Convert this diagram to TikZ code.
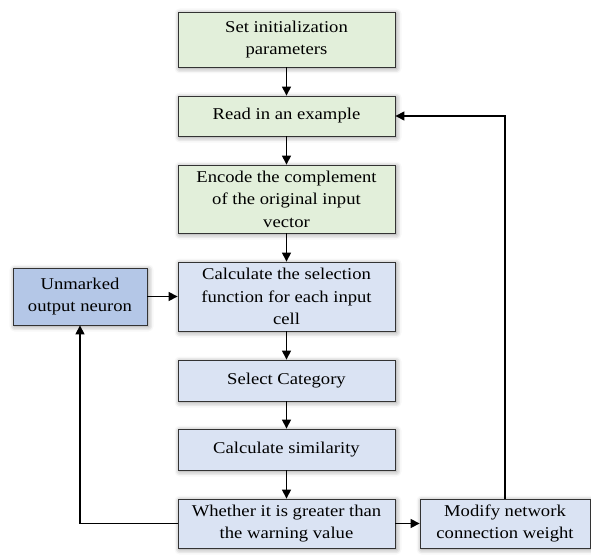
\documentclass[tikz,border=0pt]{standalone}
\usepackage{fontspec}
\setmainfont[FakeStretch=1.13]{Liberation Serif}
\usetikzlibrary{arrows.meta,shadows.blur,calc}
\definecolor{greenfill}{HTML}{E2EFDA}
\definecolor{bluefill}{HTML}{DAE3F3}
\definecolor{darkbluefill}{HTML}{B4C7E7}
\tikzset{
  flowbox/.style={draw=black!80, line width=0.8pt, minimum width=217pt, align=center,
    font=\fontsize{16.5}{22.5}\selectfont, inner sep=2pt,
    blur shadow={shadow xshift=1.5pt, shadow yshift=-1.5pt, shadow blur radius=5pt, shadow opacity=45}},
  greenbox/.style={flowbox, fill=greenfill},
  bluebox/.style={flowbox, fill=bluefill},
  flowarrow/.style={-{Triangle[length=9pt,width=9pt]}, line width=1.2pt, black}
}
\begin{document}
\begin{tikzpicture}[x=1pt,y=-1pt]
\useasboundingbox (0,0) rectangle (591,556);
% main column
\node[greenbox, minimum height=55pt] (init) at (286.5,39.5) {Set initialization\\parameters};
\node[greenbox, minimum height=40pt] (read) at (286.5,116) {Read in an example};
\node[greenbox, minimum height=68pt] (encode) at (286.5,199) {Encode the complement\\of the original input\\vector};
\node[bluebox, minimum height=69pt] (calcsel) at (286.5,296.5) {Calculate the selection\\function for each input\\cell};
\node[bluebox, minimum height=41pt] (select) at (286.5,380.5) {Select Category};
\node[bluebox, minimum height=41pt] (simil) at (286.5,449.5) {Calculate similarity};
\node[bluebox, minimum height=49pt] (warn) at (286.5,523.5) {Whether it is greater than\\the warning value};
% side boxes
\node[flowbox, fill=darkbluefill, minimum width=134pt, minimum height=57pt] (unmark) at (80,296.5) {Unmarked\\output neuron};
\node[bluebox, minimum width=170pt, minimum height=49pt] (modify) at (505,523.5) {Modify network\\connection weight};
% connectors
\draw[flowarrow] (init) -- (read);
\draw[flowarrow] (read) -- (encode);
\draw[flowarrow] (encode) -- (calcsel);
\draw[flowarrow] (calcsel) -- (select);
\draw[flowarrow] (select) -- (simil);
\draw[flowarrow] (simil) -- (warn);
\draw[flowarrow] (warn) -- (modify);
\draw[flowarrow] (unmark) -- (calcsel);
\draw[flowarrow] (warn.west) -| (unmark.south);
\draw[flowarrow] (modify.north) |- (read.east);
\end{tikzpicture}
\end{document}
